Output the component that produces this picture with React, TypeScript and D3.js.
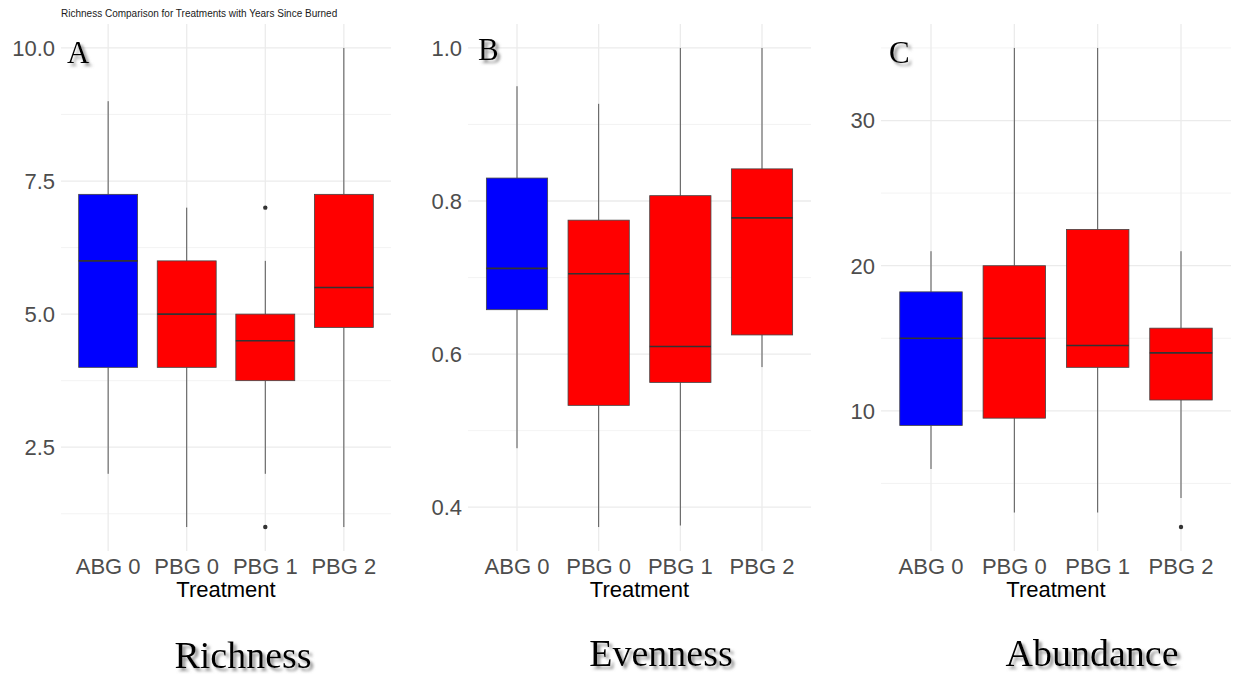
import React from 'react';
import * as d3 from 'd3';

const categories = ['ABG 0', 'PBG 0', 'PBG 1', 'PBG 2'];
const boxColors = ['#0000ff', '#ff0000', '#ff0000', '#ff0000'];

// richness
const richLow = [2, 1, 2, 1];
const richQ1 = [4, 4, 3.75, 4.75];
const richMed = [6, 5, 4.5, 5.5];
const richQ3 = [7.25, 6, 5, 7.25];
const richHigh = [9, 7, 6, 10];
const richOut = [[], [], [7, 1], []];
const richTicks = [2.5, 5, 7.5, 10];
const richMinor = [1.25, 3.75, 6.25, 8.75];

// evenness
const evenLow = [0.477, 0.374, 0.376, 0.583];
const evenQ1 = [0.658, 0.533, 0.563, 0.625];
const evenMed = [0.712, 0.705, 0.61, 0.778];
const evenQ3 = [0.83, 0.775, 0.807, 0.842];
const evenHigh = [0.95, 0.927, 1.0, 1.0];
const evenOut = [[], [], [], []];
const evenTicks = [0.4, 0.6, 0.8, 1.0];
const evenMinor = [0.5, 0.7, 0.9];

// abundance
const abunLow = [6, 3, 3, 4];
const abunQ1 = [9, 9.5, 13, 10.75];
const abunMed = [15, 15, 14.5, 14];
const abunQ3 = [18.2, 20, 22.5, 15.7];
const abunHigh = [21, 35, 35, 21];
const abunOut = [[], [], [], [2]];
const abunTicks = [10, 20, 30];
const abunMinor = [5, 15, 25, 35];

const panels = [
  { letter: 'A', name: 'Richness', left: 61, right: 391, low: richLow, q1: richQ1, med: richMed, q3: richQ3, high: richHigh, out: richOut, ticks: richTicks, minor: richMinor, fmt: d3.format('.1f'), lx: 67, ly: 63, nx: 243, ny: 668 },
  { letter: 'B', name: 'Evenness', left: 468, right: 811, low: evenLow, q1: evenQ1, med: evenMed, q3: evenQ3, high: evenHigh, out: evenOut, ticks: evenTicks, minor: evenMinor, fmt: d3.format('.1f'), lx: 478, ly: 60, nx: 661, ny: 666 },
  { letter: 'C', name: 'Abundance', left: 881, right: 1231, low: abunLow, q1: abunQ1, med: abunMed, q3: abunQ3, high: abunHigh, out: abunOut, ticks: abunTicks, minor: abunMinor, fmt: d3.format('d'), lx: 889, ly: 63, nx: 1092, ny: 666 },
];

const top = 24;
const bottom = 551;

const Panel = ({ p }) => {
  const all = [...p.low, ...p.high, ...p.out.flat()];
  const lo = d3.min(all);
  const hi = d3.max(all);
  const pad = (hi - lo) * 0.05;
  const y = d3.scaleLinear().domain([lo - pad, hi + pad]).range([bottom, top]);
  const x = d3.scalePoint().domain(categories).range([p.left, p.right]).padding(0.6);
  const bw = x.step() * 0.75;
  const minor = p.minor.filter(v => v >= lo - pad && v <= hi + pad);

  return (
    <g>
      {minor.map(v => (
        <line key={'mn' + v} x1={p.left} x2={p.right} y1={y(v)} y2={y(v)} stroke="#f0f0f0" strokeWidth={0.8} />
      ))}
      {p.ticks.map(v => (
        <line key={'mj' + v} x1={p.left} x2={p.right} y1={y(v)} y2={y(v)} stroke="#ebebeb" strokeWidth={1.3} />
      ))}
      {categories.map(c => (
        <line key={'vg' + c} x1={x(c)} x2={x(c)} y1={top} y2={bottom} stroke="#ebebeb" strokeWidth={1.3} />
      ))}
      {p.ticks.map(v => (
        <text key={'tl' + v} x={p.left - 6} y={y(v)} dy="0.36em" textAnchor="end" fontSize={22} fill="#4d4d4d">{p.fmt(v)}</text>
      ))}
      {categories.map((c, i) => {
        const cx = x(c);
        return (
          <g key={'bx' + c}>
            <line x1={cx} x2={cx} y1={y(p.high[i])} y2={y(p.q3[i])} stroke="#555" strokeWidth={1} />
            <line x1={cx} x2={cx} y1={y(p.q1[i])} y2={y(p.low[i])} stroke="#555" strokeWidth={1} />
            <rect x={cx - bw / 2} y={y(p.q3[i])} width={bw} height={y(p.q1[i]) - y(p.q3[i])} fill={boxColors[i]} stroke="#444" strokeWidth={0.8} />
            <line x1={cx - bw / 2} x2={cx + bw / 2} y1={y(p.med[i])} y2={y(p.med[i])} stroke="#333" strokeWidth={1.6} />
            {p.out[i].map((o, j) => (
              <circle key={j} cx={cx} cy={y(o)} r={2.2} fill="#333" />
            ))}
          </g>
        );
      })}
      {categories.map(c => (
        <text key={'xl' + c} x={x(c)} y={574} textAnchor="middle" fontSize={22} fill="#4d4d4d">{c}</text>
      ))}
      <text x={(p.left + p.right) / 2} y={597} textAnchor="middle" fontSize={22} fill="#000">Treatment</text>
      <text x={p.lx} y={p.ly} fontFamily="'Liberation Serif', serif" fontSize={31} fill="#000" filter="url(#shadow)">{p.letter}</text>
      <text x={p.nx} y={p.ny} textAnchor="middle" fontFamily="'Liberation Serif', serif" fontSize={38} fill="#000" filter="url(#shadow)">{p.name}</text>
    </g>
  );
};

const App = () => {
  return (
    <svg width={1233} height={677} style={{ position: 'absolute', left: 0, top: 0, background: '#fff' }} fontFamily="'Liberation Sans', Arial, sans-serif">
      <defs>
        <filter id="shadow" x="-10%" y="-10%" width="130%" height="140%">
          <feDropShadow dx={3} dy={3} stdDeviation={1.6} floodColor="#777" floodOpacity={0.8} />
        </filter>
      </defs>
      <rect width={1233} height={677} fill="#fff" />
      <text x={61} y={17} fontSize={10} fill="#1a1a1a">Richness Comparison for Treatments with Years Since Burned</text>
      {panels.map(p => <Panel key={p.letter} p={p} />)}
    </svg>
  );
};

export default App;
